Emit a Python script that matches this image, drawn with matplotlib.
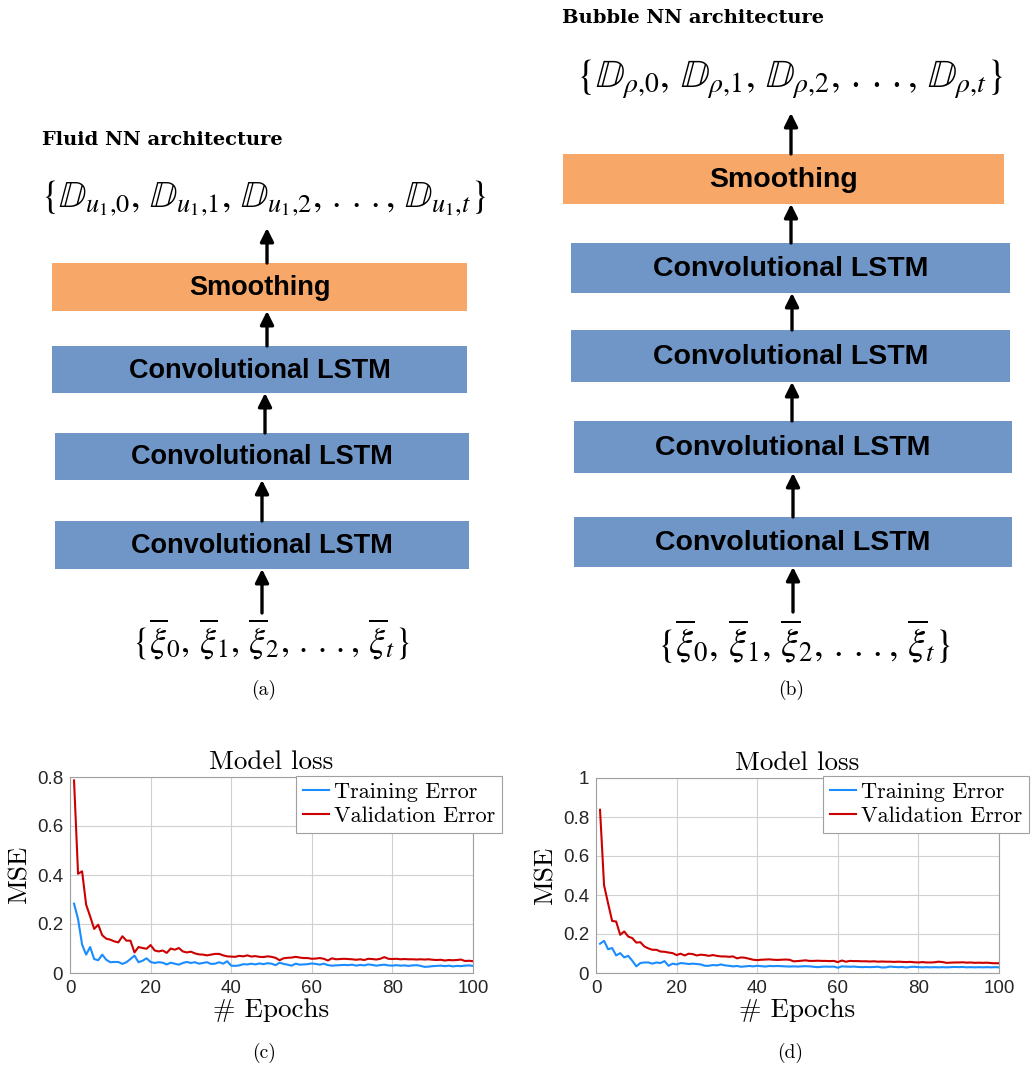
import matplotlib
matplotlib.use("Agg")
import matplotlib.pyplot as plt
from matplotlib.patches import Rectangle

plt.rcParams['mathtext.fontset'] = 'stix'

W, H = 1032, 1070

# ---- data: loss curves (epochs 1..100) ----
epochs = list(range(1, 101))

fluid_val = [0.786, 0.405, 0.415, 0.279, 0.231, 0.180, 0.197, 0.154, 0.140, 0.136,
             0.129, 0.125, 0.150, 0.132, 0.132, 0.084, 0.106, 0.102, 0.099, 0.114,
             0.092, 0.088, 0.092, 0.082, 0.100, 0.095, 0.102, 0.088, 0.084, 0.087,
             0.080, 0.076, 0.075, 0.072, 0.075, 0.078, 0.078, 0.072, 0.068, 0.067,
             0.066, 0.070, 0.068, 0.072, 0.067, 0.069, 0.066, 0.065, 0.068, 0.066,
             0.062, 0.052, 0.060, 0.062, 0.063, 0.066, 0.063, 0.061, 0.061, 0.058,
             0.059, 0.061, 0.058, 0.051, 0.060, 0.056, 0.057, 0.058, 0.057, 0.056,
             0.054, 0.056, 0.053, 0.058, 0.057, 0.055, 0.058, 0.065, 0.058, 0.057,
             0.058, 0.056, 0.057, 0.056, 0.056, 0.055, 0.056, 0.055, 0.056, 0.054,
             0.053, 0.054, 0.051, 0.053, 0.052, 0.053, 0.055, 0.049, 0.050, 0.048]

fluid_train = [0.283, 0.220, 0.116, 0.075, 0.106, 0.057, 0.052, 0.075, 0.054, 0.044,
               0.045, 0.045, 0.037, 0.044, 0.057, 0.071, 0.044, 0.050, 0.060, 0.045,
               0.041, 0.044, 0.042, 0.035, 0.042, 0.038, 0.034, 0.041, 0.045, 0.041,
               0.044, 0.038, 0.041, 0.044, 0.037, 0.038, 0.044, 0.038, 0.048, 0.030,
               0.029, 0.031, 0.036, 0.035, 0.038, 0.035, 0.039, 0.036, 0.040, 0.038,
               0.032, 0.042, 0.037, 0.034, 0.030, 0.038, 0.034, 0.035, 0.036, 0.039,
               0.037, 0.034, 0.038, 0.032, 0.030, 0.031, 0.032, 0.033, 0.032, 0.034,
               0.030, 0.033, 0.031, 0.035, 0.033, 0.030, 0.032, 0.034, 0.031, 0.030,
               0.032, 0.030, 0.031, 0.029, 0.031, 0.032, 0.029, 0.025, 0.026, 0.028,
               0.029, 0.030, 0.028, 0.030, 0.027, 0.029, 0.028, 0.030, 0.031, 0.029]

bubble_val = [0.837, 0.450, 0.357, 0.267, 0.264, 0.196, 0.213, 0.187, 0.179, 0.156,
              0.158, 0.136, 0.126, 0.119, 0.119, 0.110, 0.109, 0.105, 0.102, 0.092,
              0.099, 0.090, 0.099, 0.097, 0.090, 0.094, 0.092, 0.088, 0.092, 0.088,
              0.085, 0.085, 0.083, 0.085, 0.075, 0.080, 0.078, 0.073, 0.068, 0.066,
              0.068, 0.069, 0.070, 0.068, 0.067, 0.068, 0.069, 0.068, 0.060, 0.061,
              0.063, 0.065, 0.062, 0.062, 0.063, 0.062, 0.062, 0.061, 0.062, 0.056,
              0.064, 0.058, 0.062, 0.061, 0.061, 0.060, 0.060, 0.059, 0.060, 0.058,
              0.059, 0.058, 0.058, 0.057, 0.058, 0.057, 0.056, 0.057, 0.055, 0.054,
              0.056, 0.054, 0.054, 0.055, 0.058, 0.056, 0.052, 0.053, 0.054, 0.054,
              0.055, 0.053, 0.054, 0.052, 0.053, 0.052, 0.053, 0.051, 0.050, 0.050]

bubble_train = [0.150, 0.165, 0.122, 0.128, 0.090, 0.102, 0.080, 0.088, 0.063, 0.034,
                0.051, 0.054, 0.054, 0.048, 0.054, 0.051, 0.061, 0.037, 0.048, 0.044,
                0.051, 0.049, 0.046, 0.048, 0.046, 0.044, 0.037, 0.037, 0.041, 0.039,
                0.044, 0.039, 0.037, 0.034, 0.036, 0.032, 0.034, 0.036, 0.034, 0.037,
                0.035, 0.033, 0.036, 0.035, 0.036, 0.035, 0.034, 0.033, 0.034, 0.033,
                0.034, 0.035, 0.034, 0.032, 0.030, 0.032, 0.033, 0.032, 0.033, 0.027,
                0.034, 0.033, 0.032, 0.033, 0.031, 0.030, 0.031, 0.030, 0.031, 0.032,
                0.028, 0.029, 0.033, 0.031, 0.030, 0.031, 0.028, 0.031, 0.032, 0.030,
                0.029, 0.030, 0.029, 0.030, 0.029, 0.030, 0.029, 0.030, 0.031, 0.030,
                0.031, 0.029, 0.030, 0.029, 0.030, 0.029, 0.030, 0.029, 0.030, 0.029]

# ---- diagram layers, bottom of list = top of the stack ----
fluid_layers = ["Convolutional LSTM", "Convolutional LSTM", "Convolutional LSTM", "Smoothing"]
bubble_layers = ["Convolutional LSTM", "Convolutional LSTM", "Convolutional LSTM",
                 "Convolutional LSTM", "Smoothing"]

DOTS = r".\,.\,."
fluid_out = (r"$\{\mathbb{D}_{u_1{,}0},\,\mathbb{D}_{u_1{,}1},\,\mathbb{D}_{u_1{,}2},\," + DOTS
             + r",\,\mathbb{D}_{u_1{,}t}\}$")
bubble_out = (r"$\{\mathbb{D}_{\rho{,}0},\,\mathbb{D}_{\rho{,}1},\,\mathbb{D}_{\rho{,}2},\," + DOTS
              + r",\,\mathbb{D}_{\rho{,}t}\}$")
xi_in = r"$\{\overline{\xi}_0,\,\overline{\xi}_1,\,\overline{\xi}_2,\," + DOTS + r",\,\overline{\xi}_t\}$"

BLUE_BOX = "#7096c8"
ORANGE_BOX = "#f7a868"
TRAIN_C = "#1a8cff"
VAL_C = "#cc0000"

fig = plt.figure(figsize=(W / 100, H / 100), dpi=100)
ov = fig.add_axes([0, 0, 1, 1])
ov.set_xlim(0, W)
ov.set_ylim(H, 0)
ov.axis("off")


def box(x0, x1, y0, y1, label, fs):
    color = ORANGE_BOX if label == "Smoothing" else BLUE_BOX
    ov.add_patch(Rectangle((x0, y0), x1 - x0, y1 - y0, facecolor=color, edgecolor="none"))
    ov.text((x0 + x1) / 2, (y0 + y1) / 2 + 1, label, ha="center", va="center",
            fontsize=fs, fontweight="bold", family="Liberation Sans")


def arrow(x, y_from, y_to):
    ov.annotate("", xy=(x, y_to), xytext=(x, y_from),
                arrowprops=dict(arrowstyle="-|>", lw=2.4, color="black",
                                mutation_scale=20, shrinkA=0, shrinkB=0))


# (a) fluid
fluid_boxes = [(55, 469, 521, 569), (55, 469, 433, 480), (52, 467, 346, 393), (52, 467, 263, 311)]
for (x0, x1, y0, y1), lab in zip(fluid_boxes, fluid_layers):
    box(x0, x1, y0, y1, lab, 19.5)
arrow(262, 613, 569)
arrow(262, 521, 480)
arrow(265, 433, 393)
arrow(267, 346, 311)
arrow(267, 263, 228)
ov.text(42, 145, "Fluid NN architecture", family="DejaVu Serif", fontweight="bold", fontsize=14)
ov.text(264, 207, fluid_out, ha="center", va="baseline", fontsize=27)
ov.text(271, 652, xi_in, ha="center", va="baseline", fontsize=26)
ov.text(264, 690, "(a)", ha="center", va="center", family="cmr10", fontsize=14)

# (b) bubble
bubble_boxes = [(574, 1012, 517, 567), (574, 1012, 421, 473), (571, 1010, 330, 382),
                (571, 1010, 243, 293), (563, 1004, 154, 204)]
for (x0, x1, y0, y1), lab in zip(bubble_boxes, bubble_layers):
    box(x0, x1, y0, y1, lab, 20.5)
arrow(793, 612, 567)
arrow(793, 517, 473)
arrow(792, 421, 382)
arrow(792, 330, 293)
arrow(791, 243, 204)
arrow(791, 154, 113)
ov.text(562, 23, "Bubble NN architecture", family="DejaVu Serif", fontweight="bold", fontsize=14)
ov.text(790, 88, bubble_out, ha="center", va="baseline", fontsize=28.5)
ov.text(804, 657, xi_in, ha="center", va="baseline", fontsize=27.5)
ov.text(791, 690, "(b)", ha="center", va="center", family="cmr10", fontsize=14)


# ---- loss plots ----
def loss_axes(left, right, top, bottom, train, val, ymax, yticks, yticklabels, legend_right):
    ax = fig.add_axes([left / W, 1 - bottom / H, (right - left) / W, (bottom - top) / H])
    ax.plot(epochs, train, color=TRAIN_C, lw=1.5, label="Training Error")
    ax.plot(epochs, val, color=VAL_C, lw=1.5, label="Validation Error")
    ax.set_xlim(0, 100)
    ax.set_ylim(0, ymax)
    ax.set_xticks([0, 20, 40, 60, 80, 100])
    ax.set_yticks(yticks)
    ax.set_yticklabels(yticklabels)
    ax.grid(True, color="#d0d0d0", lw=0.8)
    ax.set_axisbelow(True)
    for s in ax.spines.values():
        s.set_color("#a0a0a0")
        s.set_linewidth(0.8)
    ax.tick_params(direction="in", length=0, colors="#262626", labelsize=13.5, pad=5)
    for lab in ax.get_xticklabels() + ax.get_yticklabels():
        lab.set_family("Liberation Sans")
    ax.set_title("Model loss", family="cmr10", fontsize=19.5, pad=6)
    ax.set_xlabel("# Epochs", family="cmr10", fontsize=19.5, labelpad=1)
    ax.set_ylabel("MSE", family="cmr10", fontsize=19.5, labelpad=4)
    leg = ax.legend(loc="upper right", bbox_to_anchor=(legend_right / W, 1 - 776 / H),
                    bbox_transform=fig.transFigure, borderaxespad=0,
                    prop={"family": "cmr10", "size": 16}, fancybox=False,
                    handlelength=1.15, handletextpad=0.25, borderpad=0.3,
                    labelspacing=0.2, framealpha=1)
    leg.get_frame().set_edgecolor("#a0a0a0")
    leg.get_frame().set_linewidth(0.8)
    return ax


loss_axes(70, 473, 777, 973, fluid_train, fluid_val, 0.8,
          [0, 0.2, 0.4, 0.6, 0.8], ["0", "0.2", "0.4", "0.6", "0.8"], 502)
loss_axes(596, 999, 778, 973, bubble_train, bubble_val, 1.0,
          [0, 0.2, 0.4, 0.6, 0.8, 1.0], ["0", "0.2", "0.4", "0.6", "0.8", "1"], 1029)

ov.text(264, 1053, "(c)", ha="center", va="center", family="cmr10", fontsize=14)
ov.text(790, 1053, "(d)", ha="center", va="center", family="cmr10", fontsize=14)

fig.savefig("out.png", dpi=100)
